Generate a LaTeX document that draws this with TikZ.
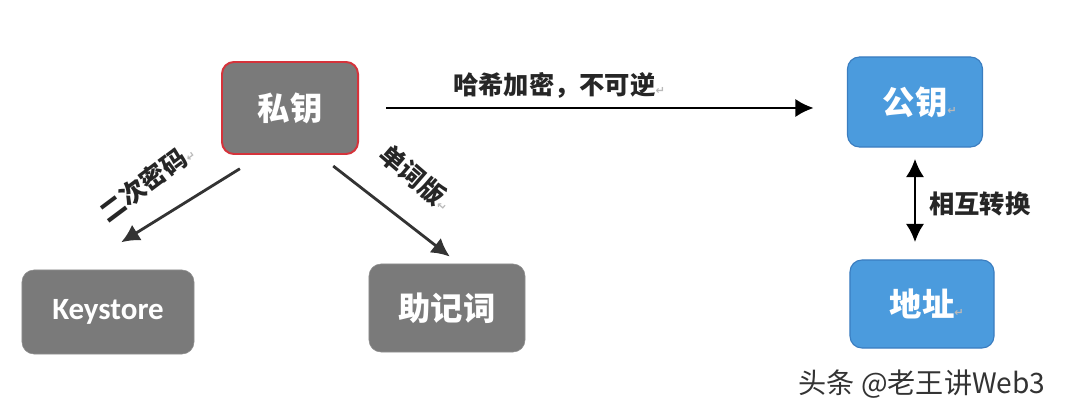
\documentclass[tikz,border=0pt]{standalone}
\usepackage{fontspec}
\setmainfont{Noto Sans CJK SC}
\newfontfamily\latinfont{Carlito}
\newfontfamily\symfont{DejaVu Sans}
\usetikzlibrary{arrows.meta}
\definecolor{boxgray}{HTML}{7A7A7A}
\definecolor{keyred}{HTML}{D5333B}
\definecolor{boxblue}{HTML}{4B9BDD}
\definecolor{edgeblue}{HTML}{3A7DC0}
\definecolor{linegray}{HTML}{333333}
\newcommand{\retmark}{{\symfont\fontsize{8}{8}\selectfont\textcolor{gray!55}{↵}}}
\tikzstyle{grey} = [rectangle, rounded corners=0.3cm, text centered, draw=boxgray!85!white, fill=boxgray, text=white, font=\bfseries\fontsize{23}{23}\selectfont]
\tikzstyle{secret} = [grey, draw=keyred, line width=1.4pt]
\tikzstyle{public} = [rectangle, rounded corners=0.3cm, text centered, draw=edgeblue, line width=0.8pt, fill=boxblue, text=white, font=\bfseries\fontsize{23}{23}\selectfont]
\tikzstyle{label} = [font=\bfseries\fontsize{18}{18}\selectfont, text=black!85, inner sep=1pt]
\tikzstyle{arrow} = [line width=2pt,->,>={Latex[length=13pt,width=13pt]}]

\begin{document}
\begin{tikzpicture}[x=0.025cm, y=-0.025cm]

\useasboundingbox (0,0) rectangle (1066,412);

% objects
\node (sk) at (290,108) [secret, minimum width=3.4cm, minimum height=2.3cm] {私钥};
\node (pk) at (915,102) [public, minimum width=3.375cm, minimum height=2.25cm] {公钥\rlap{\retmark}};
\node (addr) at (922,304) [public, minimum width=3.6cm, minimum height=2.2cm] {地址\rlap{\retmark}};
\node (ks) at (108,312) [grey, minimum width=4.3cm, minimum height=2.1cm, font=\latinfont\bfseries\fontsize{22}{22}\selectfont] {Keystore};
\node (mn) at (447,308) [grey, minimum width=3.9cm, minimum height=2.2cm] {助记词};

% arrows
\draw [arrow, shorten <=0.675cm, shorten >=0.83cm] (sk.east) -- node[label, pos=0.41, above=5pt] {哈希加密，不可逆\retmark} (sk.east -| pk.west);
\draw [arrow, linegray, shorten <=0.65cm, shorten >=1.3cm] ([xshift=-0.7cm]sk.south) -- node[label, sloped, rotate=5, above=16pt] {二次密码\retmark} ([xshift=-0.775cm]ks.north);
\draw [arrow, linegray, shorten <=0.45cm, shorten >=0.29cm] ([xshift=0.725cm]sk.south) -- node[label, sloped, rotate=-3, above=19pt] {单词版\retmark} ([xshift=0.3cm]mn.north);
\draw [arrow, <->, shorten <=0.28cm, shorten >=0.43cm] (pk.south) -- node[label, right=8pt] {相互转换} (pk.south |- addr.north);

% watermark
\node (mark) at (922,384) [font=\fontsize{20}{20}\selectfont, text=black!80] {头条 @老王讲Web3};

\end{tikzpicture}
\end{document}
